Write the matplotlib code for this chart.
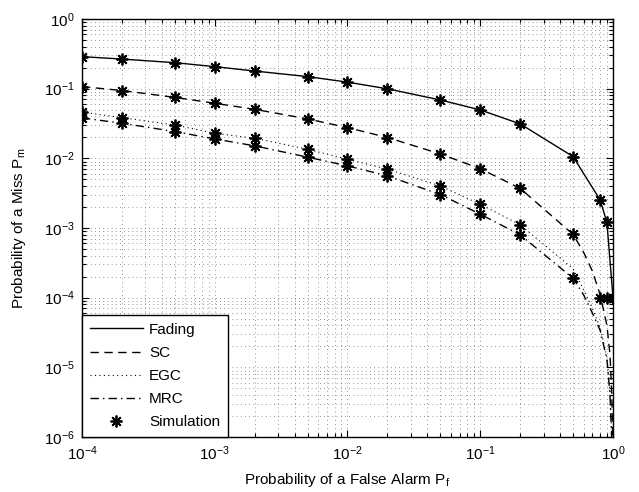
import numpy as np
import matplotlib
matplotlib.use("Agg")
import matplotlib.pyplot as plt
from matplotlib.ticker import LogLocator, NullFormatter

plt.rcParams['font.family'] = ['Liberation Sans', 'DejaVu Sans']
plt.rcParams['mathtext.fontset'] = 'custom'
plt.rcParams['mathtext.rm'] = 'Liberation Sans'
plt.rcParams['mathtext.it'] = 'Liberation Sans:italic'

# ---- data ----
pf = [1e-4, 2e-4, 5e-4, 1e-3, 2e-3, 5e-3, 1e-2, 2e-2, 5e-2, 0.1, 0.2, 0.5]
fading_pm = [0.288, 0.266, 0.236, 0.207, 0.179, 0.149, 0.124, 0.0995, 0.0689, 0.0495, 0.0312, 0.0106]
fading_tail_x = [0.8, 0.9, 1.0]
fading_tail_pm = [0.00253, 0.0012, 1e-4]

sc_pm = [0.107, 0.094, 0.075, 0.0617, 0.0505, 0.0368, 0.0276, 0.0199, 0.01156, 0.0071, 0.0037, 0.00081]
egc_pm = [0.046, 0.0384, 0.0301, 0.0229, 0.0194, 0.0135, 0.0097, 0.0070, 0.00402, 0.00219, 0.00111, 0.00026]
mrc_pm = [0.038, 0.0319, 0.0242, 0.0190, 0.0151, 0.0104, 0.0078, 0.0056, 0.00302, 0.00158, 0.000796, 0.00019]

tail_x = [0.6, 0.7, 0.8, 0.9, 0.95, 0.98, 0.995]
sc_tail = [4.5e-4, 2.4e-4, 1.1e-4, 4e-5, 1.5e-5, 4e-6, 8e-7]
egc_tail = [1.3e-4, 7e-5, 3.7e-5, 1.4e-5, 4.5e-6, 1e-6, 2e-7]
mrc_tail = [1.1e-4, 6e-5, 3.4e-5, 1.3e-5, 4e-6, 8e-7, 1.5e-7]

# simulation points
sim_fading_x = pf + [0.8, 0.9, 1.0]
sim_fading_pm = fading_pm + [0.00253, 0.0012, 1e-4]
sim_sc_pm = sc_pm
sim_egc_pm = egc_pm[:-1] + [np.nan]
sim_mrc_pm = mrc_pm
sim_floor_x = [0.8, 0.9, 1.0]
sim_floor_pm = [1e-4, 1e-4, 1e-4]

fig = plt.figure(figsize=(6.39, 4.92), dpi=100)
ax = fig.add_axes([0.1283, 0.1118, 0.8310, 0.8496])

lw = 1.0
ax.plot(pf + fading_tail_x, fading_pm + fading_tail_pm, '-', color='k', lw=lw, label='Fading')
ax.plot(pf + tail_x, sc_pm + sc_tail, color='k', lw=lw, ls=(0, (6, 4)), label='SC')
ax.plot(pf + tail_x, egc_pm + egc_tail, color='k', lw=0.8, ls=(0, (1, 3)), label='EGC')
ax.plot(pf + tail_x, mrc_pm + mrc_tail, color='k', lw=lw, ls=(0, (6, 3, 1, 3)), label='MRC')

mk = dict(marker=(8, 2, 0), ms=8.5, mew=1.3, color='k', ls='none')
ax.plot(sim_fading_x, sim_fading_pm, **mk, label='Simulation')
ax.plot(pf, sim_sc_pm, **mk)
ax.plot(pf, sim_egc_pm, **mk)
ax.plot(pf, sim_mrc_pm, **mk)
ax.plot(sim_floor_x, sim_floor_pm, **mk)

ax.set_xscale('log')
ax.set_yscale('log')
ax.set_xlim(1e-4, 1)
ax.set_ylim(1e-6, 1)

ax.xaxis.set_major_locator(LogLocator(base=10, numticks=10))
ax.yaxis.set_major_locator(LogLocator(base=10, numticks=10))
ax.xaxis.set_minor_locator(LogLocator(base=10, subs=np.arange(2, 10), numticks=20))
ax.yaxis.set_minor_locator(LogLocator(base=10, subs=np.arange(2, 10), numticks=20))
ax.xaxis.set_minor_formatter(NullFormatter())
ax.yaxis.set_minor_formatter(NullFormatter())

ax.grid(True, which='both', ls=(0, (1, 4)), lw=0.6, color='0.45')
ax.set_axisbelow(True)
ax.tick_params(which='both', direction='in', top=True, right=True, labelsize=11, width=0.8)
ax.tick_params(which='major', length=5, pad=5)
ax.tick_params(which='minor', length=3)
for s in ax.spines.values():
    s.set_linewidth(1.0)

ax.set_xlabel('Probability of a False Alarm P$_\\mathregular{f}$', fontsize=11, labelpad=6)
ax.set_ylabel('Probability of a Miss P$_\\mathregular{m}$', fontsize=11, labelpad=12)

leg = ax.legend(loc='lower left', borderaxespad=0, fancybox=False, edgecolor='k',
                framealpha=1, fontsize=11, handlelength=3.5, handletextpad=0.4,
                labelspacing=0.6, borderpad=0.5)
leg.get_frame().set_linewidth(1.0)

fig.savefig('out.png', dpi=100)
